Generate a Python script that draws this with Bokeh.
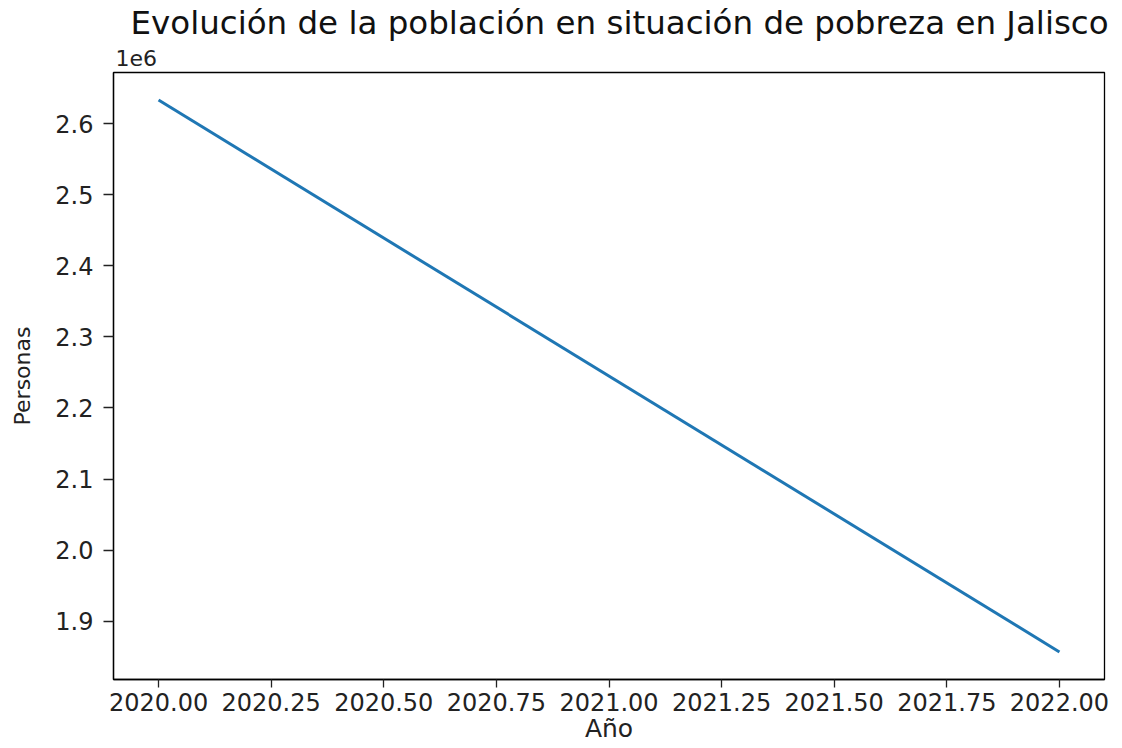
from bokeh.plotting import figure
from bokeh.models import FixedTicker, CustomJSTickFormatter, Range1d, Title
from bokeh.embed import file_html
from bokeh.resources import INLINE

# Data
years = [2020, 2022]
personas = [2633000, 1857000]

# Tick labels
x_ticks = [2020.00, 2020.25, 2020.50, 2020.75, 2021.00, 2021.25, 2021.50, 2021.75, 2022.00]
y_ticks = [1.9e6, 2.0e6, 2.1e6, 2.2e6, 2.3e6, 2.4e6, 2.5e6, 2.6e6]

title_text = "Evolución de la población en situación de pobreza en Jalisco"
x_label = "Año"
y_label = "Personas"
offset_text = "1e6"

FONT = "DejaVu Sans"

span_y = personas[0] - personas[1]
p = figure(width=1114, height=748, output_backend="svg", toolbar_location=None,
           x_range=Range1d(2019.9, 2022.1),
           y_range=Range1d(personas[1] - 0.05 * span_y, personas[0] + 0.05 * span_y),
           min_border_left=113, min_border_right=10, min_border_top=72, min_border_bottom=69)

p.line(years, personas, line_color="#1f77b4", line_width=3)

p.title.text = title_text
p.title.text_font = FONT
p.title.text_font_size = "32.5px"
p.title.text_font_style = "normal"
p.title.align = "left"
p.title.text_color = "#111111"
p.title.standoff = 0
p.title.offset = 17

sub = Title(text=offset_text, align="left", text_font=FONT, text_font_size="22px",
            text_font_style="normal", text_color="#222222", standoff=13, offset=2)
p.add_layout(sub, "above")

p.xgrid.visible = False
p.ygrid.visible = False
p.outline_line_color = "black"
p.outline_line_width = 1.3
p.outline_line_alpha = 1.0

p.xaxis.ticker = FixedTicker(ticks=x_ticks)
p.xaxis.formatter = CustomJSTickFormatter(code="return tick.toFixed(2);")
p.yaxis.ticker = FixedTicker(ticks=y_ticks)
p.yaxis.formatter = CustomJSTickFormatter(code="return (tick / 1e6).toFixed(1);")

for ax in (p.xaxis[0], p.yaxis[0]):
    ax.major_label_text_font = FONT
    ax.major_label_text_font_size = "24px"
    ax.major_label_text_color = "#222222"
    ax.axis_label_text_font = FONT
    ax.axis_label_text_font_style = "normal"
    ax.axis_label_text_color = "#222222"
    ax.axis_line_color = "black"
    ax.axis_line_width = 1.3
    ax.major_tick_line_color = "#222222"
    ax.major_tick_line_width = 1.3
    ax.major_tick_in = 0
    ax.minor_tick_in = 0
    ax.minor_tick_out = 0

p.xaxis.major_tick_out = 8
p.yaxis.major_tick_out = 10
p.xaxis.major_label_standoff = 5
p.yaxis.major_label_standoff = 10
p.xaxis.axis_label = x_label
p.xaxis.axis_label_text_font_size = "25px"
p.xaxis.axis_label_standoff = 0
p.yaxis.axis_label = y_label
p.yaxis.axis_label_text_font_size = "22px"
p.yaxis.axis_label_standoff = 17

open("out.html", "w").write(file_html(p, INLINE))
